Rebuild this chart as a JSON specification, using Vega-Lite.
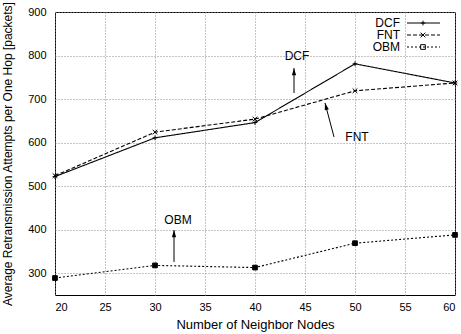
{
  "$schema": "https://vega.github.io/schema/vega-lite/v6.json",
  "width": 400,
  "height": 283,
  "autosize": {"type": "none"},
  "padding": {"left": 55, "top": 12, "right": 6, "bottom": 39},
  "background": "white",
  "config": {
    "font": "Liberation Sans",
    "view": {"stroke": "black", "strokeWidth": 1},
    "axis": {
      "grid": true,
      "gridColor": "#8a8a8a",
      "gridDash": [1, 2],
      "gridWidth": 1,
      "domain": false,
      "ticks": false,
      "labelFont": "Liberation Sans",
      "labelFontSize": 11,
      "labelColor": "black",
      "titleFont": "Liberation Sans",
      "titleFontWeight": "normal",
      "titleColor": "black"
    },
    "legend": {
      "labelFont": "Liberation Sans",
      "labelFontSize": 12,
      "labelColor": "black"
    }
  },
  "datasets": {
    "runs": [
      {"nodes": 20, "series": "DCF", "attempts": 522},
      {"nodes": 30, "series": "DCF", "attempts": 611},
      {"nodes": 40, "series": "DCF", "attempts": 646},
      {"nodes": 50, "series": "DCF", "attempts": 781},
      {"nodes": 60, "series": "DCF", "attempts": 737},
      {"nodes": 20, "series": "FNT", "attempts": 524},
      {"nodes": 30, "series": "FNT", "attempts": 624},
      {"nodes": 40, "series": "FNT", "attempts": 654},
      {"nodes": 50, "series": "FNT", "attempts": 719},
      {"nodes": 60, "series": "FNT", "attempts": 737},
      {"nodes": 20, "series": "OBM", "attempts": 289},
      {"nodes": 30, "series": "OBM", "attempts": 318},
      {"nodes": 40, "series": "OBM", "attempts": 313},
      {"nodes": 50, "series": "OBM", "attempts": 369},
      {"nodes": 60, "series": "OBM", "attempts": 388}
    ],
    "notes": [
      {"label": "DCF", "tx": 44.2, "ty": 799, "x0": 43.9, "y0": 714, "x1": 43.9, "y1": 771},
      {"label": "FNT", "tx": 50.2, "ty": 613, "x0": 47.9, "y0": 613, "x1": 47.0, "y1": 691},
      {"label": "OBM", "tx": 32.3, "ty": 422, "x0": 31.9, "y0": 326, "x1": 31.9, "y1": 399}
    ]
  },
  "layer": [
    {
      "data": {"name": "runs"},
      "mark": {"type": "line", "color": "black", "strokeWidth": 1.1},
      "encoding": {
        "x": {
          "field": "nodes", "type": "quantitative",
          "scale": {"domain": [20, 60], "nice": false},
          "axis": {
            "title": "Number of Neighbor Nodes",
            "titleFontSize": 13,
            "titlePadding": 6,
            "labelPadding": 6,
            "values": [20, 25, 30, 35, 40, 45, 50, 55, 60]
          }
        },
        "y": {
          "field": "attempts", "type": "quantitative",
          "scale": {"domain": [250, 900], "nice": false, "zero": false},
          "axis": {
            "title": "Average Retransmission Attempts per One Hop [packets]",
            "titleFontSize": 12,
            "titlePadding": 13,
            "labelPadding": 9,
            "values": [300, 400, 500, 600, 700, 800, 900]
          }
        },
        "strokeDash": {
          "field": "series", "type": "nominal",
          "scale": {"domain": ["DCF", "FNT", "OBM"], "range": [[1, 0], [4, 2], [2, 2]]},
          "legend": {
            "title": null,
            "orient": "none",
            "legendX": 362.5,
            "legendY": 5,
            "symbolType": "M-3,0H3",
            "symbolSize": 121,
            "symbolStrokeColor": "black",
            "symbolStrokeWidth": 1,
            "symbolOffset": 0,
            "labelAlign": "right",
            "labelOffset": -29.5,
            "rowPadding": -9
          }
        }
      }
    },
    {
      "data": {"name": "runs"},
      "mark": {"type": "point", "color": "black", "strokeWidth": 1, "size": 22, "opacity": 1},
      "encoding": {
        "x": {"field": "nodes", "type": "quantitative"},
        "y": {"field": "attempts", "type": "quantitative"},
        "fill": {
          "condition": {"test": "datum.series == 'OBM'", "value": "black"},
          "value": "transparent"
        },
        "shape": {
          "field": "series", "type": "nominal",
          "scale": {"range": ["M-1,0H1M0,-1V1", "M-1,-1L1,1M-1,1L1,-1", "square"]},
          "legend": {
            "title": null,
            "orient": "top-right",
            "offset": 5,
            "symbolSize": 22,
            "symbolStrokeColor": "black",
            "symbolStrokeWidth": 1,
            "symbolOffset": 0,
            "labelExpr": "''",
            "labelOffset": 20.3,
            "rowPadding": -9,
            "encode": {
              "symbols": {
                "update": {
                  "fill": {"signal": "datum.value == 'OBM' ? 'black' : 'transparent'"}
                }
              }
            }
          }
        }
      }
    },
    {
      "data": {"name": "notes"},
      "mark": {"type": "text", "fontSize": 12, "align": "center", "baseline": "middle", "color": "black"},
      "encoding": {
        "x": {"field": "tx", "type": "quantitative"},
        "y": {"field": "ty", "type": "quantitative"},
        "text": {"field": "label"}
      }
    },
    {
      "data": {"name": "notes"},
      "mark": {"type": "rule", "color": "black", "strokeWidth": 1},
      "encoding": {
        "x": {"field": "x0", "type": "quantitative"},
        "y": {"field": "y0", "type": "quantitative"},
        "x2": {"field": "x1"},
        "y2": {"field": "y1"}
      }
    },
    {
      "data": {"name": "notes"},
      "transform": [{"filter": "datum.label != 'FNT'"}],
      "mark": {"type": "point", "shape": "M0,-1L-0.6,1L0.6,1Z", "filled": true, "color": "black", "size": 50, "opacity": 1, "yOffset": 3.5},
      "encoding": {
        "x": {"field": "x1", "type": "quantitative"},
        "y": {"field": "y1", "type": "quantitative"}
      }
    },
    {
      "data": {"name": "notes"},
      "transform": [{"filter": "datum.label == 'FNT'"}],
      "mark": {"type": "point", "shape": "M0,-1L-0.6,1L0.6,1Z", "filled": true, "color": "black", "size": 50, "opacity": 1, "angle": -15, "xOffset": 0.9, "yOffset": 3.4},
      "encoding": {
        "x": {"field": "x1", "type": "quantitative"},
        "y": {"field": "y1", "type": "quantitative"}
      }
    }
  ]
}
